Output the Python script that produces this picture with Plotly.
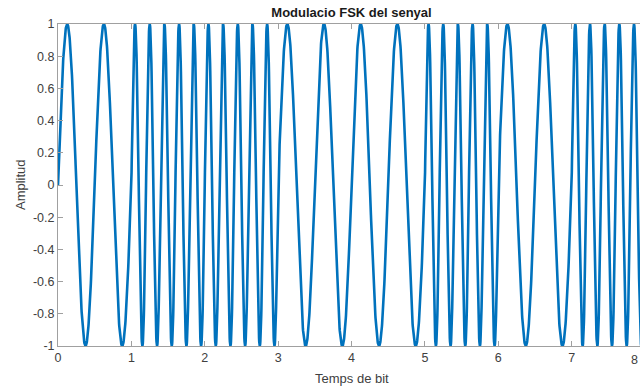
import numpy as np
import plotly.graph_objects as go

# Data
bits = [0, 1, 1, 0, 0, 1, 0, 1]          # bit sequence
freq_for_bit = {0: 2, 1: 5}              # cycles per bit period for each symbol
samples_per_bit = 400
y_ticks = [-1, -0.8, -0.6, -0.4, -0.2, 0, 0.2, 0.4, 0.6, 0.8, 1]
y_tick_labels = ["-1", "-0.8", "-0.6", "-0.4", "-0.2", "0", "0.2", "0.4", "0.6", "0.8", "1"]
x_ticks = [0, 1, 2, 3, 4, 5, 6, 7, 8]

t_all, s_all = [], []
for k, b in enumerate(bits):
    t = np.linspace(k, k + 1, samples_per_bit, endpoint=(k == len(bits) - 1))
    s = np.sin(2 * np.pi * freq_for_bit[b] * t)
    t_all.append(t)
    s_all.append(s)
t_all = np.concatenate(t_all)
s_all = np.concatenate(s_all)

fig = go.Figure()
fig.add_trace(go.Scatter(x=t_all, y=s_all, mode="lines",
                         line=dict(color="#0072BD", width=2.6),
                         showlegend=False, hoverinfo="skip"))

W, H = 640, 386
L, T, B = 58, 24, 40
axis_px_full = 645 - 58  # full axes width in original (0..8)
x_max = 8 * (W - L) / axis_px_full
plot_w = W - L
plot_h = H - T - B

font_family = "Liberation Sans, Arial, Helvetica, sans-serif"
axis_col = "#a0a0a0"
tick_font_col = "#404040"

# axis titles as annotations (in paper pixel terms)
center_x_px = L + axis_px_full / 2
fig.add_annotation(text="Temps de bit", xref="paper", yref="paper",
                   x=(center_x_px - L) / plot_w, y=-(378 - (T + plot_h)) / plot_h,
                   xanchor="center", yanchor="middle", showarrow=False,
                   font=dict(size=13, color=tick_font_col, family=font_family))
fig.add_annotation(text="Amplitud", xref="paper", yref="paper",
                   x=-(L - 20) / plot_w, y=0.5, textangle=-90,
                   xanchor="center", yanchor="middle", showarrow=False,
                   font=dict(size=13, color=tick_font_col, family=font_family))
# last tick label "8" at the right edge, as in the reference
fig.add_annotation(text="8", xref="paper", yref="paper",
                   x=1.0, y=-(360 - (T + plot_h)) / plot_h,
                   xanchor="right", yanchor="middle", showarrow=False,
                   font=dict(size=12.5, color=tick_font_col, family=font_family))

fig.update_layout(
    width=W, height=H,
    margin=dict(l=L, r=0, t=T, b=B, autoexpand=False),
    plot_bgcolor="white", paper_bgcolor="white",
    font=dict(family=font_family, size=12, color=tick_font_col),
    title=dict(text="<b>Modulacio FSK del senyal</b>",
               x=center_x_px / W, xanchor="center",
               y=1 - 12 / H, yanchor="middle",
               font=dict(size=13, color="#1a1a1a", family=font_family)),
)
fig.update_xaxes(range=[0, x_max], tickvals=x_ticks, ticktext=[str(v) for v in x_ticks],
                 showgrid=False, zeroline=False, showline=True, linecolor=axis_col,
                 linewidth=1, mirror="ticks", ticks="inside", ticklen=5, tickcolor=axis_col,
                 tickfont=dict(size=12.5, color=tick_font_col), automargin=False)
fig.update_yaxes(range=[-1, 1], tickvals=y_ticks, ticktext=y_tick_labels,
                 showgrid=False, zeroline=False, showline=True, linecolor=axis_col,
                 linewidth=1, ticks="inside", ticklen=5, tickcolor=axis_col,
                 tickfont=dict(size=12.5, color=tick_font_col), automargin=False)

fig.write_html("out.html", config={"displayModeBar": False},
               post_script="document.body.style.margin='0';document.body.style.overflow='hidden';")
